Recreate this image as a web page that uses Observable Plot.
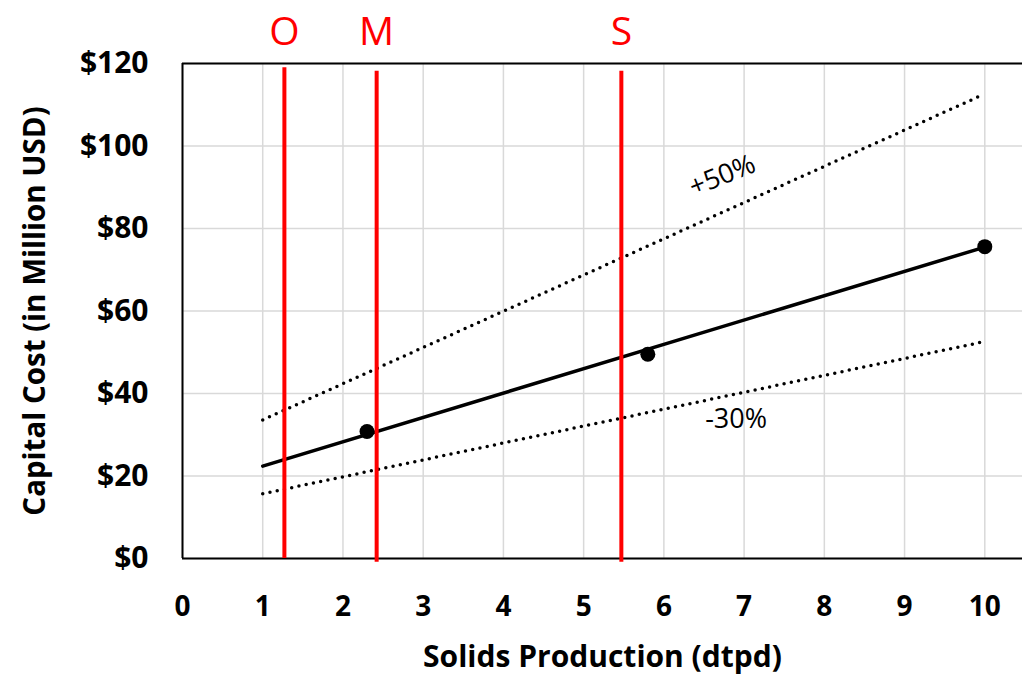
<!DOCTYPE html>
<html>
<head>
<meta charset="utf-8">
<script src="https://cdn.jsdelivr.net/npm/d3@7"></script>
<script src="https://cdn.jsdelivr.net/npm/@observablehq/plot@0.6"></script>
<style>
  html, body { margin: 0; padding: 0; background: #fff; }
  svg { display: block; }
</style>
</head>
<body>
<div id="chart"></div>
<script>
// ---- data ----
const xTicks = [0, 1, 2, 3, 4, 5, 6, 7, 8, 9, 10];
const yTicks = [0, 20, 40, 60, 80, 100, 120];

const pointX = [2.3, 5.8, 10];
const pointY = [30.8, 49.5, 75.6];

const trendX = [1, 10];
const trendY = [22.4, 75.5];
const upperX = [1, 9.95];
const upperY = [33.6, 112.2];
const lowerX = [1, 10];
const lowerY = [15.7, 52.6];

const markerLabels = ["O", "M", "S"];
const markerX = [1.27, 2.42, 5.47];
const markerTop = [119, 118.1, 118.1];
const markerBottom = [0, -0.9, -0.9];

const bandLabels = ["+50%", "-30%"];
const bandLabelX = [6.73, 6.9];
const bandLabelY = [92.8, 33.8];
const bandLabelRotate = [-22, 0];

const xTitle = "Solids Production (dtpd)";
const yTitle = "Capital Cost (in Million USD)";

// ---- tables ----
const points = pointX.map((x, i) => ({x, y: pointY[i]}));
const trend = trendX.map((x, i) => ({x, y: trendY[i]}));
const upper = upperX.map((x, i) => ({x, y: upperY[i]}));
const lower = lowerX.map((x, i) => ({x, y: lowerY[i]}));
const markers = markerLabels.map((label, i) => ({label, x: markerX[i], y1: markerBottom[i], y2: markerTop[i]}));
const bands = bandLabels.map((label, i) => ({label, x: bandLabelX[i], y: bandLabelY[i], r: bandLabelRotate[i]}));

const font = "'Open Sans', 'Segoe UI', sans-serif";

const chart = Plot.plot({
  width: 1022,
  height: 676,
  marginLeft: 182,
  marginRight: 0,
  marginTop: 63,
  marginBottom: 118,
  style: {fontFamily: font, background: "#fff", color: "#000"},
  x: {domain: [0, 10.47], ticks: xTicks},
  y: {domain: [0, 120], ticks: yTicks},
  marks: [
    Plot.gridX(xTicks, {stroke: "#d9d9d9", strokeOpacity: 1, strokeWidth: 1.5}),
    Plot.gridY(yTicks, {stroke: "#d9d9d9", strokeOpacity: 1, strokeWidth: 1.5}),
    Plot.ruleY([0, 120], {stroke: "#000", strokeWidth: 2}),
    Plot.ruleX([0], {stroke: "#000", strokeWidth: 2}),
    Plot.axisX(xTicks, {tickSize: 0, tickPadding: 38, fontSize: 28, fontWeight: "bold", label: null, fill: "#000"}),
    Plot.axisY(yTicks, {tickSize: 0, tickPadding: 34, fontSize: 30, fontWeight: "bold", label: null, fill: "#000", tickFormat: d => "$" + d}),
    Plot.text([xTitle], {frameAnchor: "bottom", dy: 99, lineAnchor: "middle", textAnchor: "middle", text: d => d, fontSize: 30, fontWeight: "bold", fill: "#000"}),
    Plot.text([yTitle], {frameAnchor: "left", dx: -147, rotate: -90, lineAnchor: "middle", textAnchor: "middle", text: d => d, fontSize: 29.5, fontWeight: "bold", fill: "#000"}),
    Plot.line(upper, {x: "x", y: "y", stroke: "#000", strokeWidth: 3.5, strokeDasharray: "0 7.4", strokeLinecap: "round"}),
    Plot.line(lower, {x: "x", y: "y", stroke: "#000", strokeWidth: 3.5, strokeDasharray: "0 7.4", strokeLinecap: "round"}),
    Plot.line(trend, {x: "x", y: "y", stroke: "#000", strokeWidth: 3.5}),
    Plot.dot(points, {x: "x", y: "y", r: 7.5, fill: "#000", stroke: "none"}),
    Plot.text(bands, {x: "x", y: "y", text: "label", rotate: "r", fontSize: 27, fill: "#000"}),
    Plot.ruleX(markers, {x: "x", y1: "y1", y2: "y2", stroke: "#ff0000", strokeWidth: 4}),
    Plot.text(markers, {x: "x", y: () => 120, dy: -31, text: "label", fontSize: 39, fill: "#ff0000"})
  ]
});
document.getElementById("chart").appendChild(chart);
</script>
</body>
</html>
